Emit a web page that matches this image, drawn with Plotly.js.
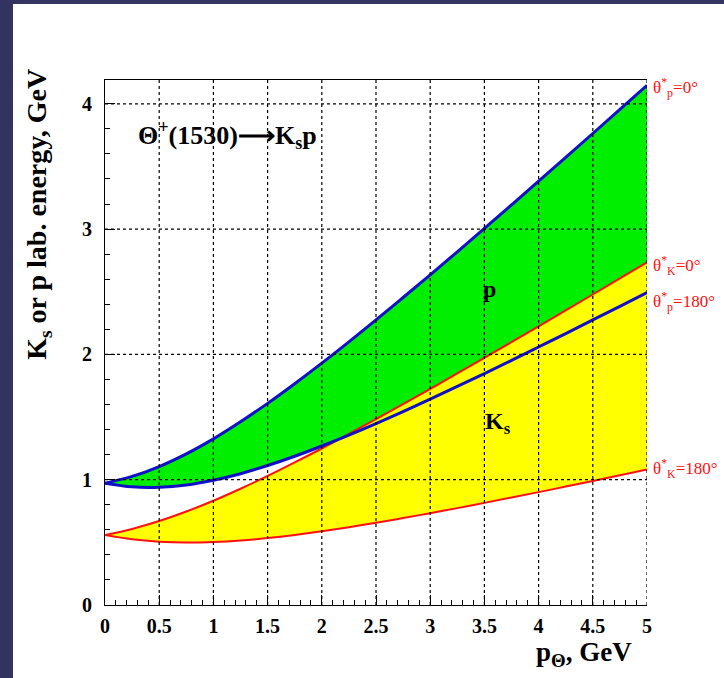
<!DOCTYPE html>
<html>
<head>
<meta charset="utf-8">
<script src="https://cdn.plot.ly/plotly-3.0.1.min.js"></script>
<style>
  html, body { margin: 0; padding: 0; width: 724px; height: 678px; background: #33335f; overflow: hidden; }
  #plot { position: absolute; left: 13px; top: 4px; width: 711px; height: 674px; background: #ffffff; }
</style>
</head>
<body>
<div id="plot"></div>
<script>
// Θ momentum, GeV
const pTheta = [0, 0.25, 0.5, 0.75, 1, 1.25, 1.5, 1.75, 2, 2.25, 2.5, 2.75, 3, 3.25, 3.5, 3.75, 4, 4.25, 4.5, 4.75, 5];
// proton lab energy, θ*p = 0°
const pMax = [0.972, 1.026, 1.105, 1.206, 1.326, 1.462, 1.609, 1.766, 1.930, 2.100, 2.275, 2.454, 2.635, 2.819, 3.005, 3.193, 3.382, 3.572, 3.763, 3.955, 4.148];
// proton lab energy, θ*p = 180°
const pMin = [0.972, 0.943, 0.940, 0.958, 0.996, 1.048, 1.113, 1.187, 1.269, 1.356, 1.448, 1.544, 1.643, 1.744, 1.847, 1.952, 2.059, 2.166, 2.275, 2.384, 2.494];
// Ks lab energy, θ*K = 0°
const kMax = [0.558, 0.607, 0.670, 0.746, 0.832, 0.928, 1.030, 1.138, 1.249, 1.365, 1.483, 1.603, 1.725, 1.848, 1.972, 2.098, 2.224, 2.351, 2.478, 2.606, 2.735];
// Ks lab energy, θ*K = 180°
const kMin = [0.558, 0.524, 0.505, 0.498, 0.502, 0.514, 0.534, 0.559, 0.588, 0.621, 0.656, 0.694, 0.733, 0.773, 0.815, 0.858, 0.901, 0.945, 0.990, 1.035, 1.081];

const xTicks = [0, 0.5, 1, 1.5, 2, 2.5, 3, 3.5, 4, 4.5, 5];
const xTickText = ['0', '0.5', '1', '1.5', '2', '2.5', '3', '3.5', '4', '4.5', '5'];
const yTicks = [0, 1, 2, 3, 4];
const yTickText = ['0', '1', '2', '3', '4'];
const xGrid = [0.5, 1, 1.5, 2, 2.5, 3, 3.5, 4, 4.5, 5];
const yGrid = [1, 2, 3, 4];

const SERIF = '"Liberation Serif", "Times New Roman", serif';
const GREEN = '#00ee00', YELLOW = '#ffff00', BLUE = '#1010c8', RED = '#ff1010';

const traces = [
  {x: pTheta, y: pMin, mode: 'lines', line: {width: 0, shape: 'spline'}, hoverinfo: 'skip'},
  {x: pTheta, y: pMax, mode: 'lines', line: {width: 0, shape: 'spline'}, fill: 'tonexty', fillcolor: GREEN, hoverinfo: 'skip'},
  {x: pTheta, y: kMin, mode: 'lines', line: {width: 0, shape: 'spline'}, hoverinfo: 'skip'},
  {x: pTheta, y: kMax, mode: 'lines', line: {width: 0, shape: 'spline'}, fill: 'tonexty', fillcolor: YELLOW, hoverinfo: 'skip'},
  {x: pTheta, y: kMin, mode: 'lines', line: {color: RED, width: 2, shape: 'spline'}},
  {x: pTheta, y: kMax, mode: 'lines', line: {color: RED, width: 2, shape: 'spline'}},
  {x: pTheta, y: pMin, mode: 'lines', line: {color: BLUE, width: 3, shape: 'spline'}},
  {x: pTheta, y: pMax, mode: 'lines', line: {color: BLUE, width: 3, shape: 'spline'}}
];

const shapes = [];
xGrid.forEach(v => shapes.push({type: 'line', xref: 'x', yref: 'paper', x0: v, x1: v, y0: 0, y1: 1, layer: 'above', line: {color: '#000', width: 1.2, dash: 'dot'}}));
yGrid.forEach(v => shapes.push({type: 'line', xref: 'paper', yref: 'y', x0: 0, x1: 1, y0: v, y1: v, layer: 'above', line: {color: '#000', width: 1.2, dash: 'dot'}}));

const boldFont = (s, c) => ({family: SERIF, size: s, color: c || '#000', weight: 'bold'});
const redFont = {family: SERIF, size: 17, color: RED};

const annotations = [
  {xref: 'x', yref: 'y', x: 0.29, y: 3.75, xanchor: 'left', yanchor: 'middle', showarrow: false,
   text: 'Θ<sup>+</sup>(1530)⟶K<sub>s</sub>p', font: boldFont(26)},
  {xref: 'x', yref: 'y', x: 3.55, y: 2.52, xanchor: 'center', yanchor: 'middle', showarrow: false, text: 'p', font: boldFont(24)},
  {xref: 'x', yref: 'y', x: 3.63, y: 1.45, xanchor: 'center', yanchor: 'middle', showarrow: false, text: 'K<sub>s</sub>', font: boldFont(24)},
  {xref: 'paper', yref: 'y', x: 1.008, y: 4.13, xanchor: 'left', yanchor: 'middle', showarrow: false, text: 'θ<sup>*</sup><sub>p</sub>=0°', font: redFont},
  {xref: 'paper', yref: 'y', x: 1.008, y: 2.71, xanchor: 'left', yanchor: 'middle', showarrow: false, text: 'θ<sup>*</sup><sub>K</sub>=0°', font: redFont},
  {xref: 'paper', yref: 'y', x: 1.008, y: 2.42, xanchor: 'left', yanchor: 'middle', showarrow: false, text: 'θ<sup>*</sup><sub>p</sub>=180°', font: redFont},
  {xref: 'paper', yref: 'y', x: 1.008, y: 1.09, xanchor: 'left', yanchor: 'middle', showarrow: false, text: 'θ<sup>*</sup><sub>K</sub>=180°', font: redFont},
  {xref: 'paper', yref: 'y', x: -0.124, y: 3.12, xanchor: 'center', yanchor: 'middle', textangle: -90, showarrow: false,
   text: 'K<sub>s</sub> or p lab. energy, GeV', font: boldFont(28)},
  {xref: 'paper', yref: 'paper', x: 0.884, y: -0.094, xanchor: 'center', yanchor: 'middle', showarrow: false,
   text: 'p<sub>Θ</sub>, GeV', font: boldFont(27)}
];

const layout = {
  width: 711, height: 674,
  margin: {l: 92, r: 77, t: 76, b: 73},
  paper_bgcolor: '#ffffff', plot_bgcolor: '#ffffff',
  showlegend: false, hovermode: false,
  xaxis: {
    range: [0, 5], tickvals: xTicks, ticktext: xTickText,
    ticks: 'inside', ticklen: 10, tickwidth: 1, tickcolor: '#000',
    minor: {dtick: 0.1, tick0: 0, ticks: 'inside', ticklen: 5, tickcolor: '#000', showgrid: false},
    showline: true, linecolor: '#000', linewidth: 1, mirror: true,
    showgrid: false, zeroline: false, tickfont: boldFont(20), ticklabelstandoff: 3, fixedrange: true
  },
  yaxis: {
    range: [0, 4.19], tickvals: yTicks, ticktext: yTickText,
    ticks: 'inside', ticklen: 10, tickwidth: 1, tickcolor: '#000',
    minor: {dtick: 0.2, tick0: 0, ticks: 'inside', ticklen: 5, tickcolor: '#000', showgrid: false},
    showline: true, linecolor: '#000', linewidth: 1, mirror: false,
    showgrid: false, zeroline: false, tickfont: boldFont(20), ticklabelstandoff: 8, fixedrange: true
  },
  shapes: shapes,
  annotations: annotations
};

Plotly.newPlot('plot', traces, layout, {displayModeBar: false, staticPlot: true});
</script>
</body>
</html>
